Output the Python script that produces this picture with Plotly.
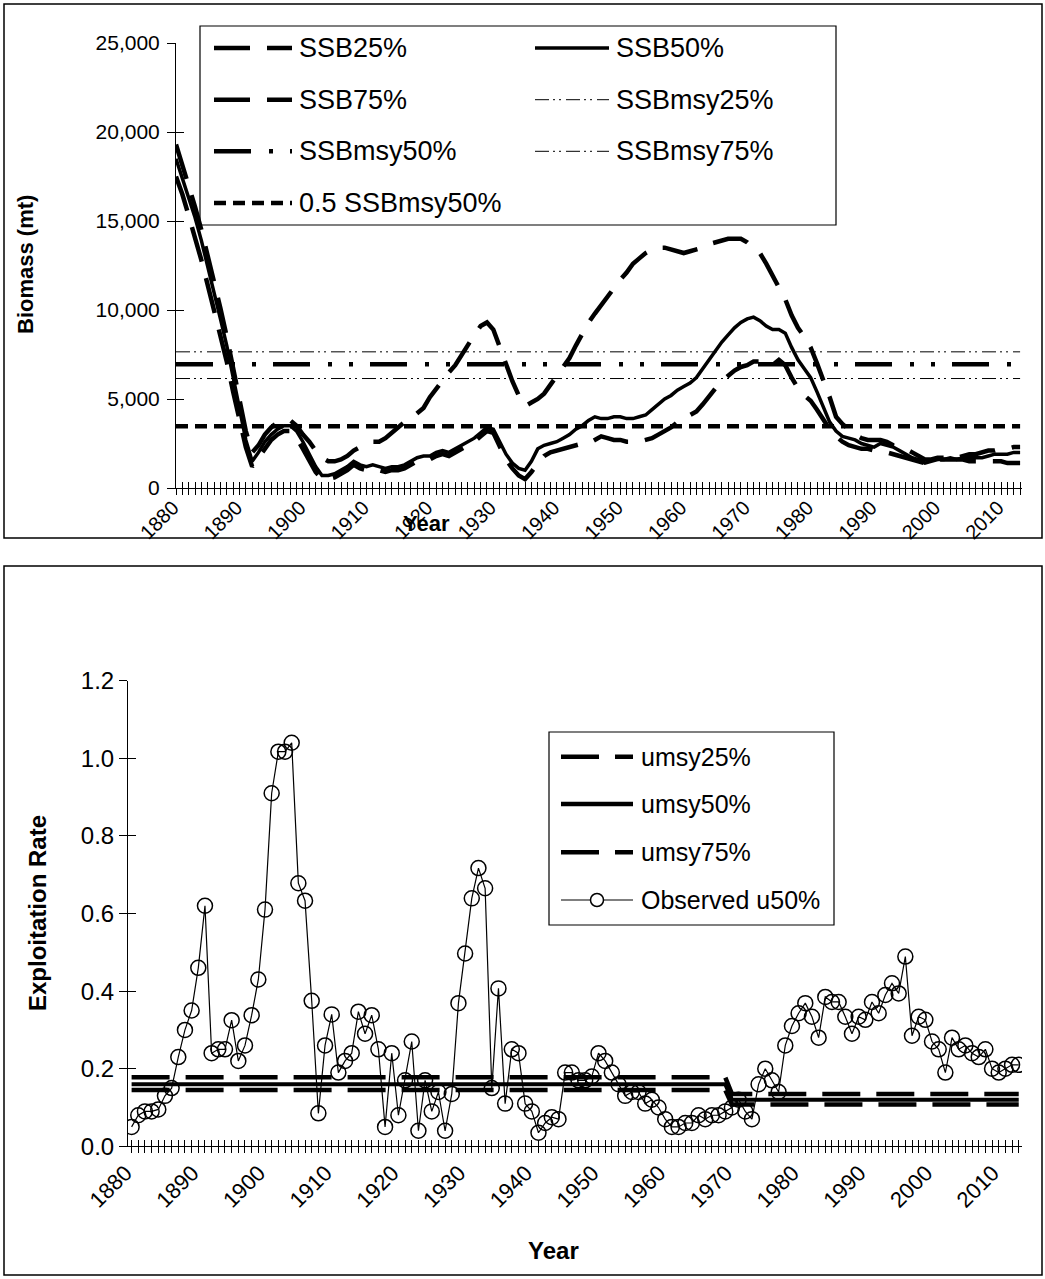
import plotly.graph_objects as go

W, H = 1045, 1279

# ---------------- data ----------------
years = list(range(1880, 2014))

ssb25 = [17500, 16500, 15300, 14100, 12800, 11400, 10000, 8600, 7100, 5400,
         3700, 2300, 1200, 1700, 2300, 2700, 3000, 3200, 3200, 2800,
         2200, 1500, 900, 500, 500, 600, 800, 1000, 1300, 1100,
         1000, 1100, 1000, 900, 1000, 1000, 1100, 1300, 1500, 1600,
         1600, 1800, 1900, 1800, 2000, 2200, 2400, 2600, 2900, 3200,
         3100, 2300, 1600, 1100, 700, 500, 900, 1400, 1800, 2000,
         2100, 2200, 2300, 2400, 2500, 2500, 2700, 2900, 2800, 2700,
         2700, 2600, 2600, 2600, 2700, 2800, 3000, 3200, 3400, 3700,
         3800, 4100, 4300, 4700, 5200, 5600, 6000, 6300, 6600, 6800,
         6900, 7100, 7100, 7000, 6900, 7200, 6900, 6200, 5600, 5200,
         4900, 4400, 3800, 3300, 2900, 2600, 2400, 2300, 2200, 2200,
         2100, 2000, 2000, 1900, 1800, 1700, 1600, 1500, 1400, 1500,
         1600, 1600, 1600, 1600, 1600, 1500, 1500, 1500, 1500, 1500,
         1500, 1400, 1400, 1400]

ssb50 = [18500, 17400, 16300, 15200, 13900, 12500, 11000, 9500, 8000, 6200,
         4300, 2700, 1500, 2000, 2600, 3000, 3300, 3500, 3500, 3200,
         2600, 1900, 1200, 700, 700, 800, 1000, 1200, 1500, 1300,
         1200, 1300, 1200, 1100, 1200, 1200, 1300, 1500, 1700, 1800,
         1800, 2000, 2100, 2000, 2200, 2400, 2600, 2800, 3100, 3400,
         3300, 2600, 1900, 1400, 1100, 1000, 1500, 2200, 2400, 2500,
         2600, 2800, 3000, 3300, 3500, 3800, 4000, 3900, 3900, 4000,
         4000, 3900, 3900, 4000, 4100, 4400, 4700, 5000, 5200, 5500,
         5700, 5900, 6200, 6700, 7200, 7700, 8200, 8600, 9000, 9300,
         9500, 9600, 9400, 9100, 8900, 8900, 8700, 7900, 7200, 6700,
         6200, 5400, 4500, 3700, 3200, 2900, 2800, 2700, 2500, 2400,
         2300, 2500, 2400, 2300, 2100, 1900, 1700, 1600, 1400, 1500,
         1600, 1600, 1700, 1600, 1700, 1700, 1700, 1700, 1800, 1900,
         1900, 1900, 2000, 2000]

ssb75 = [19300, 18200, 17000, 15800, 14500, 13100, 11700, 10100, 8500, 6700,
         4800, 3200, 2000, 2400, 3000, 3400, 3700, 3800, 3800, 3500,
         3000, 2600, 2100, 1700, 1500, 1500, 1600, 1800, 2100, 2300,
         2500, 2600, 2600, 2800, 3100, 3400, 3700, 3900, 4200, 4500,
         5100, 5600, 6100, 6500, 6900, 7500, 8000, 8600, 9100, 9300,
         8900, 7900, 6900, 6000, 5200, 4600, 4800, 5000, 5300, 5800,
         6300, 6800, 7300, 8000, 8700, 9300, 9800, 10300, 10800, 11300,
         11700, 12100, 12600, 12900, 13200, 13400, 13500, 13500, 13400, 13300,
         13200, 13300, 13400, 13500, 13700, 13800, 13900, 14000, 14000, 14000,
         13800, 13500, 13200, 12600, 11900, 11200, 10600, 9700, 9000, 8500,
         7900, 7000, 6100, 5100, 4000, 3600, 3300, 3000, 2800, 2700,
         2700, 2700, 2600, 2400, 2300, 2200, 2000, 1800, 1600, 1600,
         1700, 1700, 1800, 1700, 1800, 1900, 1900, 2000, 2100, 2100,
         2200, 2200, 2300, 2300]

SSBMSY25 = 6150
SSBMSY50 = 6950
SSBMSY75 = 7650
HALF_SSBMSY50 = 3475

u_obs = [0.05, 0.08, 0.09, 0.09, 0.095, 0.13, 0.15, 0.23, 0.30, 0.35,
         0.46, 0.62, 0.24, 0.25, 0.25, 0.325, 0.22, 0.26, 0.338, 0.43,
         0.61, 0.91, 1.017, 1.017, 1.04, 0.678, 0.633, 0.375, 0.085, 0.26,
         0.34, 0.19, 0.22, 0.24, 0.347, 0.29, 0.338, 0.25, 0.05, 0.24,
         0.08, 0.17, 0.27, 0.04, 0.17, 0.09, 0.14, 0.04, 0.135, 0.369,
         0.497, 0.639, 0.717, 0.665, 0.15, 0.407, 0.11, 0.25, 0.24, 0.11,
         0.09, 0.035, 0.06, 0.075, 0.07, 0.19, 0.19, 0.17, 0.17, 0.18,
         0.24, 0.22, 0.19, 0.16, 0.13, 0.14, 0.14, 0.11, 0.12, 0.10,
         0.07, 0.05, 0.05, 0.06, 0.06, 0.08, 0.07, 0.08, 0.08, 0.09,
         0.10, 0.12, 0.09, 0.07, 0.16, 0.20, 0.17, 0.14, 0.26, 0.31,
         0.343, 0.369, 0.334, 0.28, 0.385, 0.372, 0.372, 0.334, 0.29, 0.334,
         0.326, 0.372, 0.343, 0.39, 0.42, 0.394, 0.489, 0.285, 0.334, 0.326,
         0.27, 0.25, 0.19, 0.28, 0.25, 0.26, 0.24, 0.23, 0.25, 0.20,
         0.19, 0.20, 0.21, 0.21]

UMSY_CHANGE_YEAR = 1970
umsy25_levels = (0.145, 0.108)
umsy50_levels = (0.160, 0.120)
umsy75_levels = (0.178, 0.135)

x_ticks_years = list(range(1880, 2011, 10))

# ---------------- helpers ----------------
FONT = "Liberation Sans, Arial, sans-serif"


def px(x):
    return x / W


def py(y):
    return 1 - y / H


def level_series(levels):
    return [levels[0] if yr < UMSY_CHANGE_YEAR else levels[1] for yr in years]


def const(v):
    return [v for _ in years]


DASH_LONG = "36px,17px"
DASH_MSY50 = "37px,18px,4px,17px,4px,17px"
DASH_MSY_THIN = "14px,4px,2px,4px,2px,5px"
DASH_HALF = "12px,7px"
DASH_U = "38px,16px"

fig = go.Figure()

# ---------------- top panel ----------------
top_series = [
    ("SSBmsy75%", const(SSBMSY75), dict(color="black", width=1, dash=DASH_MSY_THIN)),
    ("SSBmsy25%", const(SSBMSY25), dict(color="black", width=1, dash=DASH_MSY_THIN)),
    ("SSBmsy50%", const(SSBMSY50), dict(color="black", width=4.5, dash=DASH_MSY50)),
    ("0.5 SSBmsy50%", const(HALF_SSBMSY50), dict(color="black", width=4.5, dash=DASH_HALF)),
    ("SSB75%", ssb75, dict(color="black", width=4.5, dash=DASH_LONG)),
    ("SSB25%", ssb25, dict(color="black", width=4.5, dash=DASH_LONG)),
    ("SSB50%", ssb50, dict(color="black", width=3.5)),
]
for name, vals, line in top_series:
    fig.add_trace(go.Scatter(x=years, y=vals, name=name, mode="lines", line=line,
                             xaxis="x", yaxis="y", showlegend=False))

# ---------------- bottom panel ----------------
bottom_series = [
    ("umsy25%", level_series(umsy25_levels), dict(color="black", width=4.5, dash=DASH_U)),
    ("umsy75%", level_series(umsy75_levels), dict(color="black", width=4.5, dash=DASH_U)),
    ("umsy50%", level_series(umsy50_levels), dict(color="black", width=4)),
]
for name, vals, line in bottom_series:
    fig.add_trace(go.Scatter(x=years, y=vals, name=name, mode="lines", line=line,
                             xaxis="x2", yaxis="y2", showlegend=False))

fig.add_trace(go.Scatter(x=years, y=u_obs, name="Observed u50%", mode="lines+markers",
                         line=dict(color="black", width=1.2),
                         marker=dict(symbol="circle-open", size=15, color="black",
                                     line=dict(width=1.5, color="black")),
                         xaxis="x2", yaxis="y2", showlegend=False))

# invisible anchors for overlay tick axes (crossing tick marks)
fig.add_trace(go.Scatter(x=[1900], y=[1000], mode="markers", marker=dict(opacity=0),
                         xaxis="x3", yaxis="y3", showlegend=False, hoverinfo="skip"))
fig.add_trace(go.Scatter(x=[1900], y=[0.5], mode="markers", marker=dict(opacity=0),
                         xaxis="x4", yaxis="y4", showlegend=False, hoverinfo="skip"))

top_x_range = [1880, 2013.3]
top_y_range = [0, 25000]
bot_x_range = [1879.46, 2013.49]
bot_y_range = [0, 1.2]

common_axis = dict(showgrid=False, zeroline=False, fixedrange=True, automargin=False,
                   tickcolor="black", linecolor="black")

tick_top_x = dict(family=FONT, size=20, color="black")
tick_top_y = dict(family=FONT, size=21, color="black")
tick_bot_x = dict(family=FONT, size=22, color="black")
tick_bot_y = dict(family=FONT, size=24, color="black")

fig.update_layout(
    template="none",
    width=W, height=H,
    margin=dict(l=0, r=0, t=0, b=0, pad=0, autoexpand=False),
    paper_bgcolor="white", plot_bgcolor="white",
    showlegend=False,
    xaxis=dict(domain=[px(176), px(1022)], range=top_x_range, anchor="y",
               tickmode="array", tickvals=x_ticks_years, ticks="outside", ticklen=6,
               tickangle=-45, tickfont=tick_top_x, showline=True, linewidth=1,
               ticklabelstandoff=-7, ticklabelshift=-3,
               minor=dict(tickmode="linear", tick0=1880, dtick=1, ticks="outside",
                          ticklen=6, tickcolor="black", showgrid=False),
               **common_axis),
    xaxis3=dict(overlaying="x", anchor="y", range=top_x_range,
                tickmode="linear", tick0=1880, dtick=1, ticks="inside", ticklen=6,
                showticklabels=False, showline=False, **common_axis),
    yaxis=dict(domain=[py(488), py(43)], range=top_y_range, anchor="x",
               tickmode="linear", tick0=0, dtick=5000, tickformat=",",
               ticks="outside", ticklen=8, tickfont=tick_top_y, showline=True, linewidth=1,
               ticklabelstandoff=3,
               **common_axis),
    yaxis3=dict(overlaying="y", anchor="x", range=top_y_range,
                tickmode="linear", tick0=0, dtick=5000, ticks="inside", ticklen=8,
                showticklabels=False, showline=False, **common_axis),
    xaxis2=dict(domain=[px(128), px(1022)], range=bot_x_range, anchor="y2",
                tickmode="array", tickvals=x_ticks_years, ticks="outside", ticklen=6,
                tickangle=-45, tickfont=tick_bot_x, showline=True, linewidth=1,
                ticklabelstandoff=-2, ticklabelshift=-6,
                minor=dict(tickmode="linear", tick0=1880, dtick=1, ticks="outside",
                           ticklen=6, tickcolor="black", showgrid=False),
                **common_axis),
    xaxis4=dict(overlaying="x2", anchor="y2", range=bot_x_range,
                tickmode="linear", tick0=1880, dtick=1, ticks="inside", ticklen=6,
                showticklabels=False, showline=False, **common_axis),
    yaxis2=dict(domain=[py(1146.3), py(680.7)], range=bot_y_range, anchor="x2",
                tickmode="linear", tick0=0, dtick=0.2, tickformat=".1f",
                ticks="outside", ticklen=8, tickfont=tick_bot_y, showline=True, linewidth=1,
                **common_axis),
    yaxis4=dict(overlaying="y2", anchor="x2", range=bot_y_range,
                tickmode="linear", tick0=0, dtick=0.2, ticks="inside", ticklen=8,
                showticklabels=False, showline=False, **common_axis),
)

shapes = []
annotations = []


def rect(x0, y0, x1, y1, width=1.5):
    shapes.append(dict(type="rect", xref="paper", yref="paper",
                       x0=px(x0), x1=px(x1), y0=py(y1), y1=py(y0),
                       line=dict(color="black", width=width), fillcolor="rgba(0,0,0,0)",
                       layer="above"))


def hline(x0, x1, y, line):
    shapes.append(dict(type="line", xref="paper", yref="paper",
                       x0=px(x0), x1=px(x1), y0=py(y), y1=py(y), line=line, layer="above"))


def text(x, y, s, size, bold=False, angle=0, xanchor="left"):
    annotations.append(dict(xref="paper", yref="paper", x=px(x), y=py(y),
                            text=f"<b>{s}</b>" if bold else s, showarrow=False,
                            xanchor=xanchor, yanchor="middle", textangle=angle,
                            font=dict(family=FONT, size=size, color="black")))


# panel frames
rect(4, 4, 1042, 538)
rect(4, 566, 1042, 1275)

# axis titles
text(26, 265, "Biomass (mt)", 22, bold=True, angle=-90, xanchor="center")
text(426, 523, "Year", 22, bold=True, xanchor="center")
text(37, 913, "Exploitation Rate", 24, bold=True, angle=-90, xanchor="center")
text(553, 1250, "Year", 24, bold=True, xanchor="center")

# top legend (two columns)
rect(200, 26, 836, 225, width=1.2)
legend_top = [
    ("SSB25%", dict(color="black", width=4.5, dash=DASH_LONG), 0, 0),
    ("SSB50%", dict(color="black", width=3.5), 1, 0),
    ("SSB75%", dict(color="black", width=4.5, dash=DASH_LONG), 0, 1),
    ("SSBmsy25%", dict(color="black", width=1, dash=DASH_MSY_THIN), 1, 1),
    ("SSBmsy50%", dict(color="black", width=4.5, dash=DASH_MSY50), 0, 2),
    ("SSBmsy75%", dict(color="black", width=1, dash=DASH_MSY_THIN), 1, 2),
    ("0.5 SSBmsy50%", dict(color="black", width=4.5, dash=DASH_HALF), 0, 3),
]
col_sample = [(214, 292), (535, 609)]
col_text = [297, 614]
row_y = [48, 99.7, 151.3, 203]
for name, line, c, r in legend_top:
    hline(col_sample[c][0], col_sample[c][1], row_y[r], line)
    text(col_text[c], row_y[r], name, 27)

# bottom legend
rect(549, 732, 834, 925, width=1.2)
legend_bot = [
    ("umsy25%", dict(color="black", width=4.5, dash=DASH_U)),
    ("umsy50%", dict(color="black", width=4.5)),
    ("umsy75%", dict(color="black", width=4.5, dash=DASH_U)),
    ("Observed u50%", dict(color="black", width=1.2)),
]
brow = [756.7, 804, 852.3, 900]
for (name, line), y in zip(legend_bot, brow):
    hline(561, 633, y, line)
    text(639, y, name, 25)
cx, cy, r = 597, brow[3], 6.5
shapes.append(dict(type="circle", xref="paper", yref="paper",
                   x0=px(cx - r), x1=px(cx + r), y0=py(cy + r), y1=py(cy - r),
                   line=dict(color="black", width=1.5), fillcolor="white", layer="above"))

fig.update_layout(shapes=shapes, annotations=annotations)

fig.write_html("out.html",
               config={"displayModeBar": False, "staticPlot": True},
               post_script="document.body.style.margin='0px';document.body.style.overflow='hidden';")
